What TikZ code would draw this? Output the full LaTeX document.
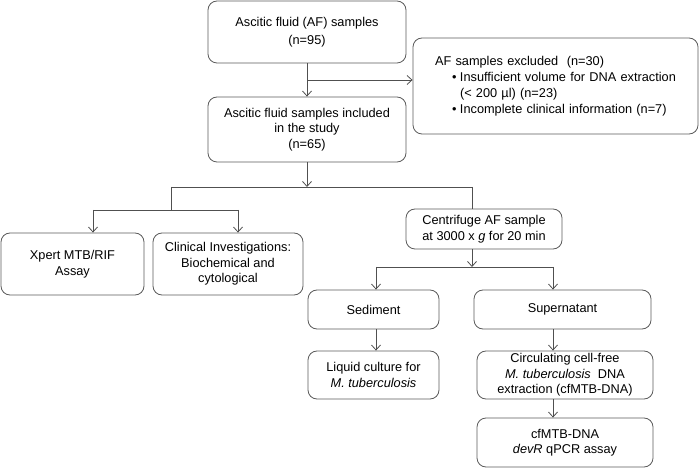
\documentclass[tikz,border=0pt]{standalone}
\usepackage{fontspec}
\setmainfont{Liberation Sans}
\usetikzlibrary{arrows.meta}
\definecolor{boxline}{RGB}{90,90,90}
\definecolor{conline}{RGB}{80,80,80}
\tikzset{
  box/.style={draw=boxline, line width=0.8bp, rounded corners=9bp, align=center,
    inner sep=0pt, font=\fontsize{12.8}{15.5}\selectfont, text=black},
  con/.style={draw=conline, line width=0.8bp},
  arr/.style={con, -{Straight Barb[length=5bp,width=9bp,line width=0.8bp]}}
}
\begin{document}
\begin{tikzpicture}[x=1bp,y=-1bp]
\useasboundingbox (0,0) rectangle (700,468);
% boxes
\node[box, minimum width=198bp, minimum height=62bp] (af) at (307,32)
  {Ascitic fluid (AF) samples\\[2.5bp](n=95)};
\node[box, text width=241bp, inner xsep=22bp, minimum height=96bp, align=left,
  font=\fontsize{12.8}{16}\selectfont] (excl) at (555.5,86)
  {AF samples excluded\ \ (n=30)\\
   \hspace*{25bp}\llap{•\hspace{3.5bp}}Insufficient volume for DNA extraction\\
   \hspace*{25bp}(< 200 µl) (n=23)\\
   \hspace*{25bp}\llap{•\hspace{3.5bp}}Incomplete clinical information (n=7)};
\node[box, minimum width=198bp, minimum height=65bp] (inc) at (307,129.5)
  {Ascitic fluid samples included\\in the study\\(n=65)};
\node[box, minimum width=143bp, minimum height=62bp] (xpert) at (72.5,264)
  {Xpert MTB/RIF\\Assay};
\node[box, minimum width=150bp, minimum height=62bp] (clin) at (228,264)
  {Clinical Investigations:\\Biochemical and\\cytological};
\node[box, minimum width=156bp, minimum height=40bp] (cent) at (484,229)
  {Centrifuge AF sample\\at 3000 x \textit{g} for 20 min};
\node[box, minimum width=131bp, minimum height=39bp] (sed) at (373.5,309.5)
  {Sediment};
\node[box, minimum width=177bp, minimum height=39bp] (sup) at (562.5,309.5)
  {Supernatant};
\node[box, minimum width=131bp, minimum height=48bp] (liq) at (373.5,375)
  {Liquid culture for\\\textit{M. tuberculosis}};
\node[box, minimum width=176bp, minimum height=48bp] (circ) at (565,375)
  {Circulating cell-free\\\textit{M. tuberculosis}\ \ DNA\\extraction (cfMTB-DNA)};
\node[box, minimum width=176bp, minimum height=49bp] (cfm) at (565,442.5)
  {cfMTB-DNA\\\textit{devR} qPCR assay};
% junction coordinates
\coordinate (j1) at (307,80);
\coordinate (j2) at (307,187);
\coordinate (j2l) at (171,187);
\coordinate (j2r) at (472,187);
\coordinate (j3) at (171,210);
\coordinate (j3l) at (93,210);
\coordinate (j3r) at (238,210);
\coordinate (j4) at (472,267);
\coordinate (j4l) at (376,267);
\coordinate (j4r) at (553,267);
% connectors
\draw[arr] (af.south) -- (inc.north);
\draw[arr] (j1) -- (j1 -| excl.west);
\draw[arr] (inc.south) -- (j2);
\draw[con] (j2l) -- (j2r);
\draw[con] (j2r) -- (j2r |- cent.north);
\draw[con] (j2l) -- (j3);
\draw[con] (j3l) -- (j3r);
\draw[arr] (j3l) -- (j3l |- xpert.north);
\draw[arr] (j3r) -- (j3r |- clin.north);
\draw[arr] (j4 |- cent.south) -- (j4);
\draw[con] (j4l) -- (j4r);
\draw[arr] (j4l) -- (j4l |- sed.north);
\draw[arr] (j4r) -- (j4r |- sup.north);
\draw[arr] (j4l |- sed.south) -- (j4l |- liq.north);
\draw[arr] (j4r |- sup.south) -- (j4r |- circ.north);
\draw[arr] (j4r |- circ.south) -- (j4r |- cfm.north);
\end{tikzpicture}
\end{document}
